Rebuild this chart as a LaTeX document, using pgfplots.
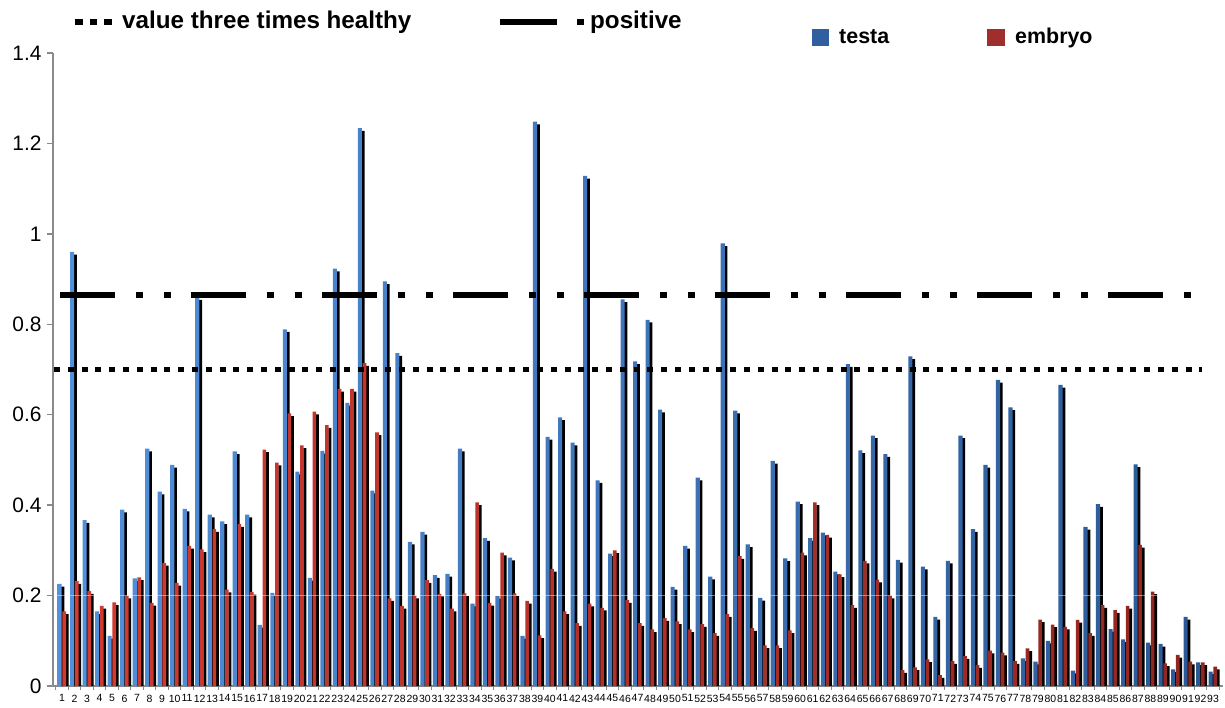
\documentclass[border=0pt]{standalone}
\usepackage{pgfplots}
\pgfplotsset{compat=1.18}
\usepackage{pgfplotstable}
\usepackage{fontspec}
\setmainfont{Liberation Sans}

\definecolor{bluel}{HTML}{5391DC}
\definecolor{blued}{HTML}{2A5895}
\definecolor{redl}{HTML}{D33B30}
\definecolor{redd}{HTML}{90251F}
\definecolor{blueleg}{HTML}{2F5F9F}
\definecolor{redleg}{HTML}{9E2F2B}
\definecolor{axgray}{HTML}{8A8A8A}

\pgfplotstableread{
cat testa embryo
1 0.226 0.165
2 0.960 0.232
3 0.367 0.210
4 0.165 0.177
5 0.111 0.185
6 0.390 0.200
7 0.238 0.240
8 0.525 0.184
9 0.430 0.272
10 0.489 0.228
11 0.392 0.310
12 0.860 0.302
13 0.379 0.347
14 0.364 0.213
15 0.519 0.358
16 0.379 0.208
17 0.135 0.523
18 0.206 0.494
19 0.789 0.603
20 0.474 0.532
21 0.239 0.607
22 0.520 0.577
23 0.923 0.657
24 0.626 0.657
25 1.234 0.714
26 0.432 0.561
27 0.895 0.194
28 0.736 0.177
29 0.319 0.200
30 0.341 0.234
31 0.245 0.204
32 0.248 0.171
33 0.525 0.205
34 0.182 0.406
35 0.327 0.184
36 0.199 0.295
37 0.284 0.205
38 0.111 0.188
39 1.248 0.112
40 0.551 0.259
41 0.594 0.165
42 0.538 0.139
43 1.128 0.182
44 0.455 0.173
45 0.293 0.300
46 0.855 0.190
47 0.718 0.139
48 0.810 0.125
49 0.611 0.150
50 0.219 0.143
51 0.310 0.125
52 0.461 0.137
53 0.242 0.117
54 0.979 0.159
55 0.609 0.287
56 0.313 0.128
57 0.195 0.090
58 0.498 0.090
59 0.282 0.123
60 0.408 0.295
61 0.327 0.406
62 0.339 0.334
63 0.253 0.247
64 0.712 0.179
65 0.521 0.277
66 0.554 0.235
67 0.513 0.200
68 0.279 0.035
69 0.729 0.041
70 0.264 0.059
71 0.153 0.024
72 0.277 0.055
73 0.554 0.066
74 0.347 0.046
75 0.489 0.078
76 0.677 0.074
77 0.616 0.055
78 0.061 0.083
79 0.054 0.147
80 0.100 0.136
81 0.666 0.131
82 0.034 0.146
83 0.352 0.117
84 0.402 0.179
85 0.126 0.168
86 0.103 0.177
87 0.490 0.312
88 0.096 0.209
89 0.093 0.050
90 0.037 0.069
91 0.153 0.054
92 0.052 0.052
93 0.032 0.043
}\datatable

\begin{document}
\begin{tikzpicture}
\path[use as bounding box] (-53bp,-22bp) rectangle (1172bp,686bp);
\begin{axis}[
  at={(0,0)}, anchor=south west,
  scale only axis,
  width=1170bp, height=633bp,
  xmin=0.28, xmax=93.8, ymin=0, ymax=1.4,
  axis x line*=bottom, axis y line*=left,
  axis line style={draw=axgray, line width=1.3bp, -},
  xtick={1,...,93},
  minor xtick={0.5,1.5,...,93.5},
  major x tick style={draw=none},
  minor x tick style={draw=axgray, line width=1bp},
  minor tick length=4bp,
  ytick={0,0.2,0.4,0.6,0.8,1,1.2,1.4},
  yticklabels={0,0.2,0.4,0.6,0.8,1,1.2,1.4},
  major y tick style={draw=axgray, line width=1.3bp},
  major tick length=6bp,
  tick align=outside,
  /pgf/number format/assume math mode=true,
  yticklabel style={font=\fontsize{21}{22}\selectfont, xshift=-2bp},
  xticklabel style={font=\fontsize{10.5}{11}\selectfont, yshift=-1bp, inner sep=1.5bp},
  clip=false,
]
% testa shadow + face
\addplot[ybar, bar width=0.28, bar shift=0.05, fill=black, draw=none]
  table[x=cat, y expr=\thisrow{testa}-0.006]{\datatable};
\addplot[ybar, bar width=0.33, bar shift=-0.19, draw=none, left color=bluel, right color=blued]
  table[x=cat, y=testa]{\datatable};
% embryo shadow + face
\addplot[ybar, bar width=0.24, bar shift=0.41, fill=black, draw=none]
  table[x=cat, y expr=\thisrow{embryo}-0.006]{\datatable};
\addplot[ybar, bar width=0.29, bar shift=0.175, draw=none, left color=redl, right color=redd]
  table[x=cat, y=embryo]{\datatable};
% light band at 0.2
\addplot[white, opacity=0.45, line width=1.3bp] coordinates {(0.35,0.2) (93.7,0.2)};
% reference lines
\addplot[black, line width=5.8bp, dash pattern=on 6bp off 7.8bp]
  coordinates {(0.36,0.7) (92.13,0.7)};
\addplot[black, line width=5.8bp, dash pattern=on 55bp off 21bp on 7bp off 21bp on 7bp off 20bp]
  coordinates {(0.84,0.864) (91.25,0.864)};
\end{axis}
% legend (pixel (px,py) -> (px-53, 686-py))
\draw[black, line width=6bp, dash pattern=on 7.5bp off 7bp] (22bp,663.5bp) -- (59bp,663.5bp);
\node[anchor=base west, inner sep=0pt, font=\fontsize{24.3}{26}\selectfont\bfseries] at (69bp,657.5bp) {value three times healthy};
\draw[black, line width=6bp] (447bp,663.5bp) -- (504bp,663.5bp);
\draw[black, line width=6bp] (524bp,663.5bp) -- (531bp,663.5bp);
\node[anchor=base west, inner sep=0pt, font=\fontsize{24.3}{26}\selectfont\bfseries] at (537bp,657.5bp) {positive};
\fill[blueleg] (759bp,640bp) rectangle (776bp,657bp);
\node[anchor=base west, inner sep=0pt, font=\fontsize{21.5}{23}\selectfont\bfseries] at (786bp,642bp) {testa};
\fill[redleg] (934bp,640bp) rectangle (952bp,657bp);
\node[anchor=base west, inner sep=0pt, font=\fontsize{21.5}{23}\selectfont\bfseries] at (962bp,642bp) {embryo};
\end{tikzpicture}
\end{document}
